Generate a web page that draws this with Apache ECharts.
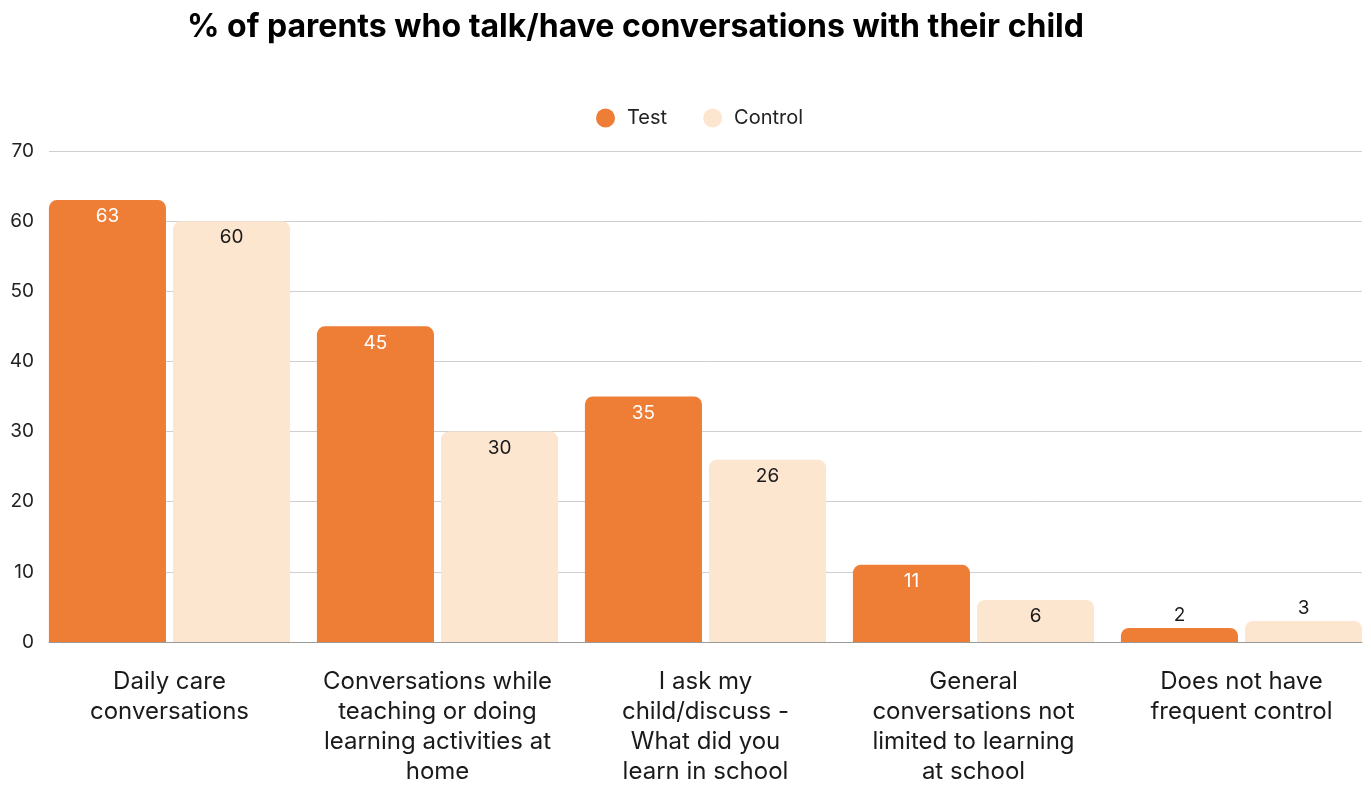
<!DOCTYPE html>
<html>
<head>
<meta charset="utf-8">
<script src="https://cdn.jsdelivr.net/npm/echarts@6/dist/echarts.min.js"></script>
<style>
  html, body { margin: 0; padding: 0; background: #fff; }
  #chart { width: 1371px; height: 785px; }
</style>
</head>
<body>
<div id="chart"></div>
<script>
// Category labels (line breaks as laid out under each group)
const categories = [
  'Daily care\nconversations',
  'Conversations while\nteaching or doing\nlearning activities at\nhome',
  'I ask my\nchild/discuss -\nWhat did you\nlearn in school',
  'General\nconversations not\nlimited to learning\nat school',
  'Does not have\nfrequent control'
];
const seriesNames = ['Test', 'Control'];
const testValues = [63, 45, 35, 11, 2];
const controlValues = [60, 30, 26, 6, 3];
const yTicks = [0, 10, 20, 30, 40, 50, 60, 70];

const ORANGE = '#EE7E36';
const PEACH = '#FDE6D0';
const FONT = 'Inter, "Noto Sans", sans-serif';

// Short bars get their value label above the bar instead of inside it
function withLabels(values, insideColor) {
  return values.map(v => v < 5
    ? { value: v, label: { position: 'top', distance: 3, color: '#1a1a1a' } }
    : { value: v, label: { color: insideColor } });
}

const chart = echarts.init(document.getElementById('chart'));
chart.setOption({
  animation: false,
  textStyle: { fontFamily: FONT },
  title: {
    text: '% of parents who talk/have conversations with their child',
    left: 182, top: 6,
    textStyle: { fontFamily: FONT, fontWeight: 'bold', fontSize: 32, color: '#000' }
  },
  legend: {
    data: seriesNames,
    left: 591, top: 103,
    icon: 'circle', itemWidth: 19, itemHeight: 19, itemGap: 36,
    textStyle: { fontFamily: FONT, fontSize: 20, color: '#222', padding: [0, 0, 0, 7] }
  },
  grid: [
    // bars
    { left: 35.5, width: 1340, top: 151, bottom: 143, containLabel: false, outerBoundsMode: 'none' },
    // value scale, gridlines and baseline
    { left: 49, right: 9, top: 151, bottom: 143, containLabel: false, outerBoundsMode: 'none' }
  ],
  xAxis: [
    {
      gridIndex: 0, type: 'category', data: categories,
      axisLine: { show: false }, axisTick: { show: false },
      axisLabel: { fontFamily: FONT, fontSize: 24, color: '#1a1a1a', lineHeight: 30, margin: 25, interval: 0 }
    },
    {
      gridIndex: 1, type: 'category', data: categories,
      axisLine: { show: true, lineStyle: { color: '#999', width: 1 } },
      axisTick: { show: false }, axisLabel: { show: false }
    }
  ],
  yAxis: [
    {
      gridIndex: 0, type: 'value', min: yTicks[0], max: yTicks[yTicks.length - 1], interval: 10,
      axisLabel: { show: false }, splitLine: { show: false }, axisLine: { show: false }
    },
    {
      gridIndex: 1, type: 'value', min: yTicks[0], max: yTicks[yTicks.length - 1], interval: 10,
      axisLine: { show: false }, axisTick: { show: false },
      axisLabel: { fontFamily: FONT, fontSize: 19, color: '#222', margin: 15 },
      splitLine: { lineStyle: { color: '#cfcfcf', width: 1 } }
    }
  ],
  series: [
    {
      name: seriesNames[0], type: 'bar', xAxisIndex: 0, yAxisIndex: 0,
      data: withLabels(testValues, '#fff'),
      barCategoryGap: '10%', barGap: '6%',
      itemStyle: { color: ORANGE, borderRadius: [8, 8, 0, 0] },
      label: { show: true, position: 'insideTop', distance: 7, fontFamily: FONT, fontSize: 19 },
      z: 3
    },
    {
      name: seriesNames[1], type: 'bar', xAxisIndex: 0, yAxisIndex: 0,
      data: withLabels(controlValues, '#1a1a1a'),
      barCategoryGap: '10%', barGap: '6%',
      itemStyle: { color: PEACH, borderRadius: [8, 8, 0, 0] },
      label: { show: true, position: 'insideTop', distance: 7, fontFamily: FONT, fontSize: 19 },
      z: 3
    }
  ]
});
</script>
</body>
</html>
